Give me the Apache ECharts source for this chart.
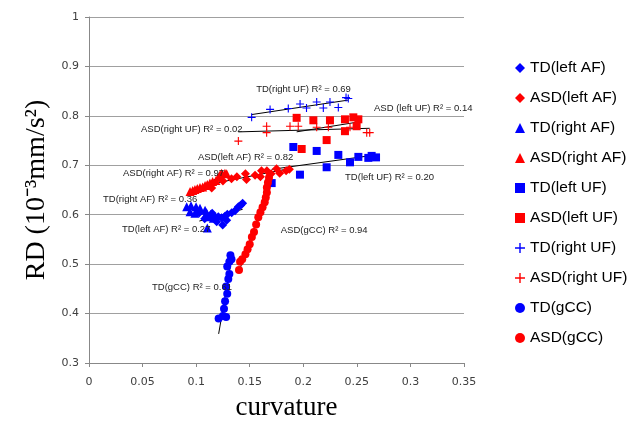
<!DOCTYPE html>
<html><head><meta charset="utf-8">
<script src="https://cdn.jsdelivr.net/npm/echarts@6/dist/echarts.min.js"></script>
<style>html,body{margin:0;padding:0;background:#fff}#c{width:640px;height:426px}</style>
</head><body><div id="c"></div>
<script>
var xTicks = [0, 0.05, 0.1, 0.15, 0.2, 0.25, 0.3, 0.35];
var yTicks = [0.3, 0.4, 0.5, 0.6, 0.7, 0.8, 0.9, 1];

var tdLeftAF = [[0.103,0.604],[0.108,0.592],[0.115,0.603],[0.1167,0.597],[0.1192,0.586],[0.1207,0.596],[0.1238,0.594],[0.1248,0.579],[0.1269,0.597],[0.1285,0.589],[0.1291,0.601],[0.1332,0.604],[0.1363,0.608],[0.1394,0.616],[0.1416,0.619],[0.1434,0.623]];
var asdLeftAF = [[0.1145,0.654],[0.125,0.668],[0.133,0.673],[0.138,0.677],[0.146,0.683],[0.147,0.671],[0.155,0.680],[0.160,0.677],[0.161,0.689],[0.166,0.689],[0.170,0.683],[0.175,0.693],[0.178,0.684],[0.184,0.689],[0.187,0.692]];
var tdRightAF = [[0.0912,0.616],[0.0943,0.606],[0.0952,0.618],[0.0989,0.603],[0.0999,0.616],[0.1036,0.613],[0.1083,0.609],[0.1098,0.604],[0.1104,0.573],[0.1129,0.596],[0.1136,0.601],[0.1160,0.593]];
var asdRightAF = [[0.0943,0.647],[0.0968,0.649],[0.0989,0.651],[0.1011,0.653],[0.1036,0.655],[0.1061,0.656],[0.1083,0.659],[0.1104,0.661],[0.1129,0.664],[0.1154,0.667],[0.1185,0.669],[0.1207,0.676],[0.1223,0.681],[0.1238,0.684],[0.1269,0.684],[0.1285,0.683]];
var tdLeftUF = [[0.1705,0.664],[0.1907,0.737],[0.1969,0.681],[0.2125,0.729],[0.2218,0.696],[0.2327,0.721],[0.2436,0.706],[0.2514,0.717],[0.2607,0.715],[0.2638,0.719],[0.2679,0.716]];
var asdLeftUF = [[0.1938,0.796],[0.1985,0.733],[0.2094,0.791],[0.2218,0.751],[0.2249,0.791],[0.2389,0.793],[0.2389,0.769],[0.2467,0.797],[0.2498,0.779],[0.2514,0.793]];
var tdRightUF = [[0.1518,0.797],[0.169,0.813],[0.186,0.815],[0.197,0.824],[0.203,0.816],[0.2125,0.828],[0.2187,0.816],[0.2249,0.828],[0.2327,0.817],[0.2399,0.837],[0.242,0.835]];
var asdRightUF = [[0.1394,0.749],[0.1658,0.779],[0.1658,0.766],[0.1876,0.779],[0.1953,0.779],[0.2125,0.777],[0.2234,0.777],[0.2436,0.777],[0.2592,0.766],[0.262,0.766]];
var tdGCC = [[0.121,0.390],[0.125,0.395],[0.128,0.393],[0.126,0.410],[0.127,0.425],[0.129,0.440],[0.128,0.455],[0.130,0.470],[0.131,0.480],[0.129,0.495],[0.131,0.505],[0.133,0.510],[0.132,0.518]];
var asdGCC = [[0.140,0.488],[0.141,0.505],[0.143,0.510],[0.146,0.520],[0.148,0.530],[0.150,0.540],[0.152,0.555],[0.154,0.565],[0.156,0.580],[0.158,0.595],[0.160,0.605],[0.162,0.615],[0.164,0.625],[0.165,0.635],[0.166,0.645],[0.166,0.655],[0.167,0.665],[0.168,0.675]];

var seriesNames = ['TD(left AF)','ASD(left AF)','TD(right AF)','ASD(right AF)','TD(left UF)','ASD(left UF)','TD(right UF)','ASD(right UF)','TD(gCC)','ASD(gCC)'];
var seriesData = [tdLeftAF, asdLeftAF, tdRightAF, asdRightAF, tdLeftUF, asdLeftUF, tdRightUF, asdRightUF, tdGCC, asdGCC];

var annotTexts = ['TD(right UF) R² = 0.69','ASD (left UF) R² = 0.14','ASD(right UF) R² = 0.02','ASD(left AF) R² = 0.82','ASD(right AF) R² = 0.97','TD(left UF) R² = 0.20','TD(right AF) R² = 0.36','TD(left AF) R² = 0.27','ASD(gCC) R² = 0.94','TD(gCC) R² = 0.61'];
var annotAnchors = [[0.156,0.852],[0.266,0.814],[0.0485,0.770],[0.1017,0.714],[0.0317,0.682],[0.239,0.674],[0.0131,0.628],[0.0308,0.568],[0.179,0.566],[0.0588,0.45]];

var BLUE = '#0000ff', RED = '#ff0000';
var PLUS = 'path://M4.3,0H5.7V4.3H10V5.7H5.7V10H4.3V5.7H0V4.3H4.3Z';
var styles = [
  {c:BLUE,s:'diamond',z:9},{c:RED,s:'diamond',z:9},
  {c:BLUE,s:'triangle',z:9},{c:RED,s:'triangle',z:9},
  {c:BLUE,s:'rect',z:8},{c:RED,s:'rect',z:8},
  {c:BLUE,s:PLUS,z:8},{c:RED,s:PLUS,z:8},
  {c:BLUE,s:'circle',z:8},{c:RED,s:'circle',z:8}
];

function fit(d){
  var n=d.length,sx=0,sy=0,sxx=0,sxy=0,mn=Infinity,mx=-Infinity;
  d.forEach(function(p){sx+=p[0];sy+=p[1];sxx+=p[0]*p[0];sxy+=p[0]*p[1];mn=Math.min(mn,p[0]);mx=Math.max(mx,p[0]);});
  var b=(n*sxy-sx*sy)/(n*sxx-sx*sx), a=(sy-b*sx)/n;
  return [[mn,a+b*mn],[mx,a+b*mx]];
}

var series = [];
seriesData.forEach(function(d,i){
  series.push({type:'line',data:fit(d),showSymbol:false,symbol:'none',silent:true,
    lineStyle:{color:'#000',width:1},z:3});
});
seriesData.forEach(function(d,i){
  series.push({name:seriesNames[i],type:'scatter',data:d,symbol:styles[i].s,symbolSize:styles[i].z,
    itemStyle:{color:styles[i].c,opacity:1},z:4});
});

var chart = echarts.init(document.getElementById('c'),null,{renderer:'canvas'});
var axisLabelStyle = {color:'#404040',fontSize:11,fontFamily:'DejaVu Sans'};
chart.setOption({
  animation:false,
  grid:{left:89,right:176,top:17,bottom:59,containLabel:false},
  xAxis:{type:'value',min:xTicks[0],max:xTicks[xTicks.length-1],interval:0.05,
    name:'curvature',nameLocation:'middle',nameGap:31,
    nameTextStyle:{fontFamily:'Liberation Serif',fontSize:27,color:'#000',padding:[0,0,0,20]},
    axisLine:{show:true,lineStyle:{color:'#888'}},
    axisTick:{show:true,length:4,lineStyle:{color:'#888'}},
    axisLabel:Object.assign({margin:14,formatter:function(v){return String(+v.toFixed(2));}},axisLabelStyle),
    splitLine:{show:false}},
  yAxis:{type:'value',min:yTicks[0],max:yTicks[yTicks.length-1],interval:0.1,
    name:'RD (10⁻³mm/s²)',nameLocation:'middle',nameGap:26,
    nameTextStyle:{fontFamily:'Liberation Serif',fontSize:28,color:'#000'},
    axisLine:{show:true,lineStyle:{color:'#888'}},
    axisTick:{show:true,length:4,lineStyle:{color:'#888'}},
    axisLabel:Object.assign({margin:10,formatter:function(v){return String(+v.toFixed(1));}},axisLabelStyle),
    splitLine:{show:true,lineStyle:{color:'#a0a0a0',width:1}}},
  legend:{orient:'vertical',left:510,top:55,itemGap:14,itemWidth:10,itemHeight:10,
    data:seriesNames,
    textStyle:{fontSize:15.5,fontFamily:'Liberation Sans',color:'#000',lineHeight:16,padding:[0,0,0,0]}},
  series:series
});

var g = [];
annotTexts.forEach(function(t,i){
  var p = chart.convertToPixel({gridIndex:0}, annotAnchors[i]);
  g.push({type:'text',left:p[0],top:p[1]-6,style:{text:t,fontSize:9.5,fontFamily:'Liberation Sans',fill:'#222'},z:10});
});
chart.setOption({graphic:g});
</script>
</body></html>
